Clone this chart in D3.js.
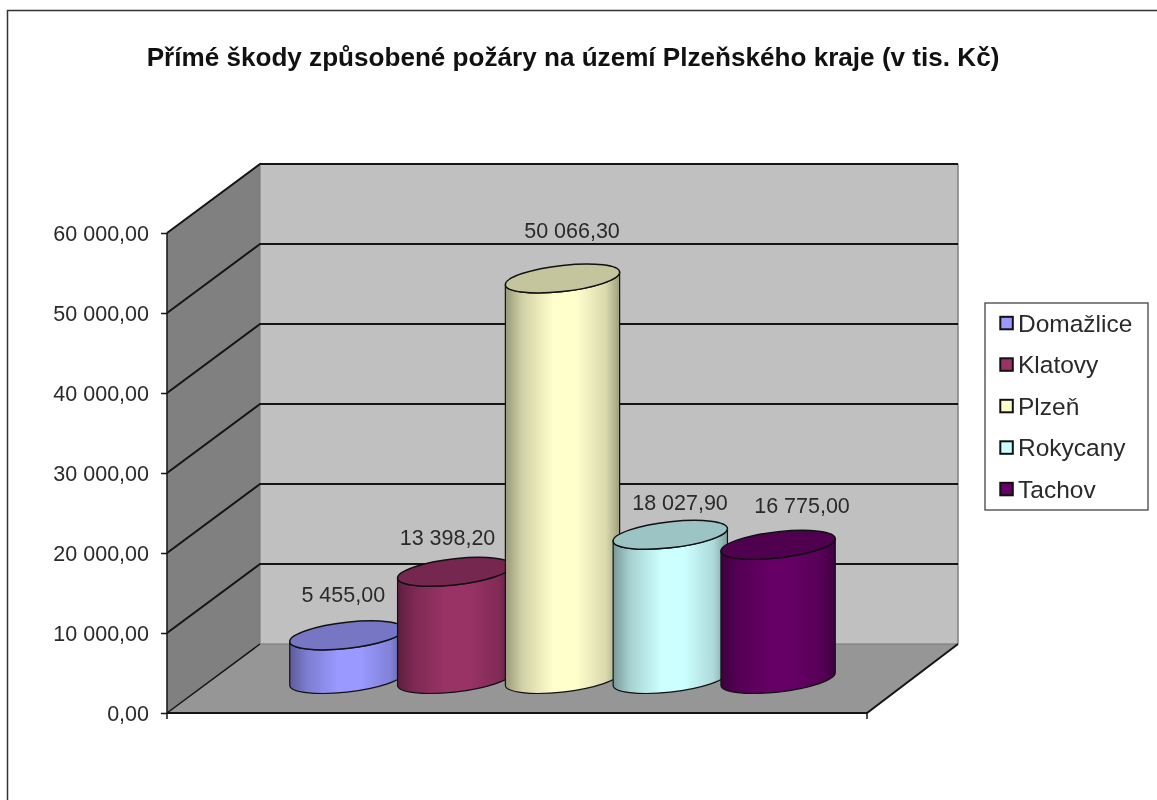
<!DOCTYPE html>
<html><head><meta charset="utf-8">
<script src="https://cdn.jsdelivr.net/npm/d3@7/dist/d3.min.js"></script>
<style>html,body{margin:0;padding:0;background:#fff}svg{display:block;filter:blur(0.5px)}text{font-family:"Liberation Sans",Arial,sans-serif;fill:#2a2a2a}</style>
</head><body><svg id="c" width="1157" height="800"></svg>
<script>
const categories = ["Domažlice","Klatovy","Plzeň","Rokycany","Tachov"];
const values = [5455.00,13398.20,50066.30,18027.90,16775.00];
const colors = ["#9999FF","#993366","#FFFFCC","#CCFFFF","#660066"];
const yTicks = [0,10000,20000,30000,40000,50000,60000];
const titleText = "Přímé škody způsobené požáry na území Plzeňského kraje (v tis. Kč)";
// hand-placed label offsets, as in the source chart
const labelDx = [-3.6,-7.2,9.5,9.7,23.9];
const labelDy = [-33.7,-26.8,-40.2,-24.8,-31.5];

const svg = d3.select("#c");
const fmt = d3.formatLocale({decimal:",",thousands:"\u00a0",grouping:[3],currency:["",""]}).format(",.2f");
const defs = svg.append("defs");

// frame
svg.append("path").attr("d","M7.5 800V10.5H1157").attr("fill","none").attr("stroke","#333").attr("stroke-width",1.5);
svg.append("text").attr("x",573).attr("y",65.5).attr("text-anchor","middle").attr("font-size",26.1).attr("font-weight","bold").style("fill","#111").text(titleText);

const yFront = d3.scaleLinear().domain([0,60000]).range([713,233]);
const yBack = d3.scaleLinear().domain([0,60000]).range([644,164]);
const xF0=167,xF1=867,xB0=260,xB1=958;

svg.append("rect").attr("x",xB0).attr("y",yBack(60000)).attr("width",xB1-xB0).attr("height",yBack(0)-yBack(60000)).attr("fill","#C0C0C0");
svg.append("path").attr("d",`M${xF0} ${yFront(60000)}L${xB0} ${yBack(60000)}V${yBack(0)}L${xF0} ${yFront(0)}Z`).attr("fill","#808080");
svg.append("path").attr("d",`M${xF0} ${yFront(0)}L${xB0} ${yBack(0)}H${xB1}L${xF1} ${yFront(0)}Z`).attr("fill","#969696");
svg.append("path").attr("d",`M${xB1} ${yBack(60000)}V${yBack(0)}`).attr("stroke","#808080").attr("stroke-width",1.5);
svg.append("path").attr("d",`M${xB0} ${yBack(60000)}V${yBack(0)}`).attr("stroke","#777").attr("stroke-width",1);

// gridlines
yTicks.forEach(t=>{
  const sw=2;
  if(t>0) svg.append("path").attr("d",`M${xF0} ${yFront(t)}L${xB0} ${yBack(t)}H${xB1}`).attr("fill","none").attr("stroke","#151515").attr("stroke-width",sw);
  else svg.append("path").attr("d",`M${xF0} ${yFront(t)}L${xB0} ${yBack(t)}`).attr("fill","none").attr("stroke","#151515").attr("stroke-width",1.5);
});
svg.append("path").attr("d",`M${xB0} ${yBack(0)}H${xB1}`).attr("stroke","#777").attr("stroke-width",1);
svg.append("path").attr("d",`M${xF0} ${yFront(0)}H${xF1}L${xB1} ${yBack(0)}`).attr("fill","none").attr("stroke","#151515").attr("stroke-width",2);
svg.append("path").attr("d",`M${xF0} ${yFront(0)+6}V${yFront(60000)}`).attr("fill","none").attr("stroke","#151515").attr("stroke-width",1.5);
svg.append("path").attr("d",`M${xF1} ${yFront(0)}V${yFront(0)+6}`).attr("stroke","#151515").attr("stroke-width",1.5);

// y axis
const ax = svg.append("g").attr("transform",`translate(${xF0},0)`).call(d3.axisLeft(yFront).tickValues(yTicks).tickFormat(fmt).tickSize(6).tickPadding(12));
ax.select(".domain").remove();
ax.selectAll("line").attr("stroke","#151515").attr("stroke-width",1.5);
ax.selectAll("text").attr("font-size",21.5).attr("dy","0.37em");

// cylinders
const x = d3.scaleBand().domain(categories).range([293,832]);
const h = d3.scaleLinear().domain([0,60000]).range([0,480]);
const baseY = 679, rx=57.5, ry=13, rotDeg=-6.5;
const th = rotDeg*Math.PI/180;
const tx = Math.atan2(-ry*Math.sin(th), rx*Math.cos(th));
const ex = rx*Math.cos(tx)*Math.cos(th)-ry*Math.sin(tx)*Math.sin(th);
const ey = rx*Math.cos(tx)*Math.sin(th)+ry*Math.sin(tx)*Math.cos(th);
const shade=(c,k)=>{const r=d3.rgb(c);return d3.rgb(r.r*k,r.g*k,r.b*k).formatHex();};

categories.forEach((cat,i)=>{
  const g = defs.append("linearGradient").attr("id","g"+i).attr("x1",0).attr("x2",1).attr("y1",0).attr("y2",0);
  [[0,.6],[.15,.82],[.42,1],[.62,1],[.88,.85],[1,.62]].forEach(([o,k])=>g.append("stop").attr("offset",o).attr("stop-color",shade(colors[i],k)));
  const cx = x(cat)+x.bandwidth()/2, top = baseY-h(values[i]);
  const arc=`A${rx} ${ry} ${rotDeg}`;
  const body=`M${cx-ex} ${top-ey}L${cx-ex} ${baseY-ey}${arc} 0 0 ${cx+ex} ${baseY+ey}L${cx+ex} ${top+ey}${arc} 0 1 ${cx-ex} ${top-ey}Z`;
  svg.append("path").attr("d",body).attr("fill",`url(#g${i})`).attr("stroke","#111").attr("stroke-width",1.2).attr("stroke-linejoin","round");
  const topE=`M${cx-ex} ${top-ey}${arc} 1 1 ${cx+ex} ${top+ey}${arc} 1 1 ${cx-ex} ${top-ey}Z`;
  svg.append("path").attr("d",topE).attr("fill",shade(colors[i],.77)).attr("stroke","#111").attr("stroke-width",1.5);
});
// data labels above all cylinders
categories.forEach((cat,i)=>{
  const cx = x(cat)+x.bandwidth()/2, top = baseY-h(values[i]);
  svg.append("text").attr("x",cx+labelDx[i]).attr("y",top+labelDy[i]).attr("text-anchor","middle").attr("font-size",21.5).text(fmt(values[i]));
});

// legend
const leg = svg.append("g");
leg.append("rect").attr("x",985).attr("y",303).attr("width",163).attr("height",207).attr("fill","#fff").attr("stroke","#444").attr("stroke-width",1.3);
const ly = d3.scalePoint().domain(categories).range([323,489]);
categories.forEach((cat,i)=>{
  leg.append("rect").attr("x",1000.3).attr("y",ly(cat)-6.2).attr("width",12.5).attr("height",12.5).attr("fill",colors[i]).attr("stroke","#111").attr("stroke-width",2);
  leg.append("text").attr("x",1018).attr("y",ly(cat)+8.7).attr("font-size",24.5).text(cat);
});
</script></body></html>
